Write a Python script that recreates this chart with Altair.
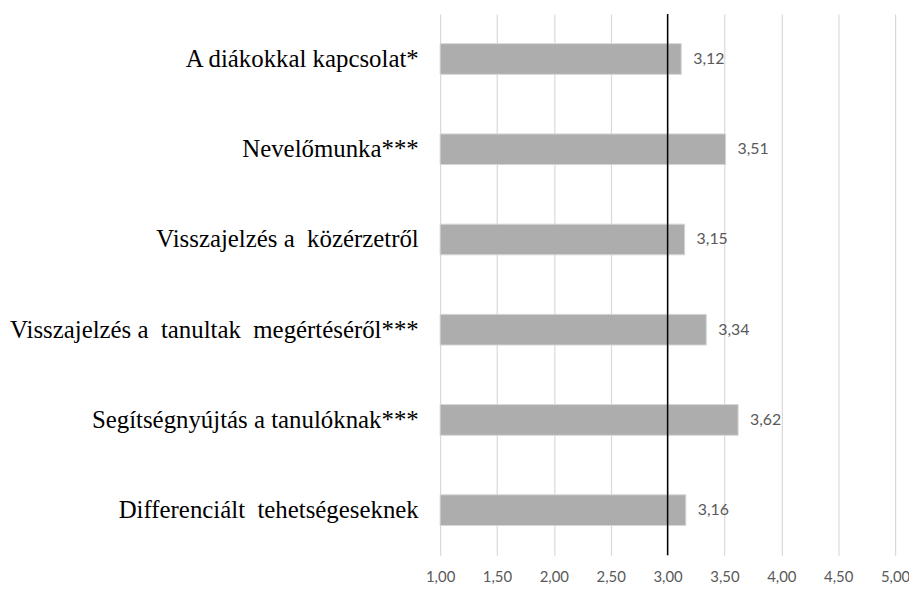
import altair as alt
import pandas as pd

NB = "\u00a0"
categories = [
    "A diákokkal kapcsolat*",
    "Nevelőmunka***",
    "Visszajelzés a" + NB + " közérzetről" + NB,
    "Visszajelzés a" + NB + " tanultak" + NB + " megértéséről***",
    "Segítségnyújtás a tanulóknak***",
    "Differenciált" + NB + " tehetségeseknek",
]
values = [3.12, 3.51, 3.15, 3.34, 3.62, 3.16]
x_ticks = [1.0, 1.5, 2.0, 2.5, 3.0, 3.5, 4.0, 4.5, 5.0]
reference_value = 3.0

df = pd.DataFrame({"cat": categories, "val": values})

x_scale = alt.Scale(domain=[1, 5], nice=False, zero=False)
y_enc = alt.Y(
    "cat:N",
    sort=categories,
    scale=alt.Scale(paddingInner=0.66, paddingOuter=0.33),
    axis=alt.Axis(
        title=None, domain=False, ticks=False, labelPadding=22,
        labelFont="Liberation Serif", labelFontSize=25, labelColor="#000000",
        labelLimit=600, grid=False,
    ),
)

bars = alt.Chart(df).mark_bar(color="#ADADAD", stroke="#D6D6D6", strokeWidth=1).encode(
    x=alt.X(
        "val:Q", scale=x_scale, title=None,
        axis=alt.Axis(
            values=x_ticks, domain=False, ticks=False, grid=True,
            gridColor="#D9D9D9", gridWidth=1.2, labelPadding=14,
            labelFlush=False, labelOverlap=False,
            labelFont="Lato", labelFontSize=15, labelColor="#595959",
            labelExpr="replace(format(datum.value, '.2f'), '.', ',')",
        ),
    ),
    x2=alt.datum(1),
    y=y_enc,
)

labels = alt.Chart(df).transform_calculate(
    lab="replace(format(datum.val, '.2f'), '.', ',')"
).mark_text(align="left", baseline="middle", dx=12, font="Lato", fontSize=16, color="#595959").encode(
    x=alt.X("val:Q", scale=x_scale),
    y=alt.Y("cat:N", sort=categories),
    text="lab:N",
)

rule = alt.Chart(pd.DataFrame({"r": [reference_value]})).mark_rule(color="#000000", strokeWidth=1.5).encode(
    x=alt.X("r:Q", scale=x_scale)
)

chart = alt.layer(bars, rule, labels).properties(
    width=458, height=545,
    autosize=alt.AutoSizeParams(type="none"),
    padding={"left": 435, "top": 4, "right": 14, "bottom": 30},
).configure_view(stroke=None)

chart.save("out.html", embed_options={"renderer": "svg", "actions": False})
